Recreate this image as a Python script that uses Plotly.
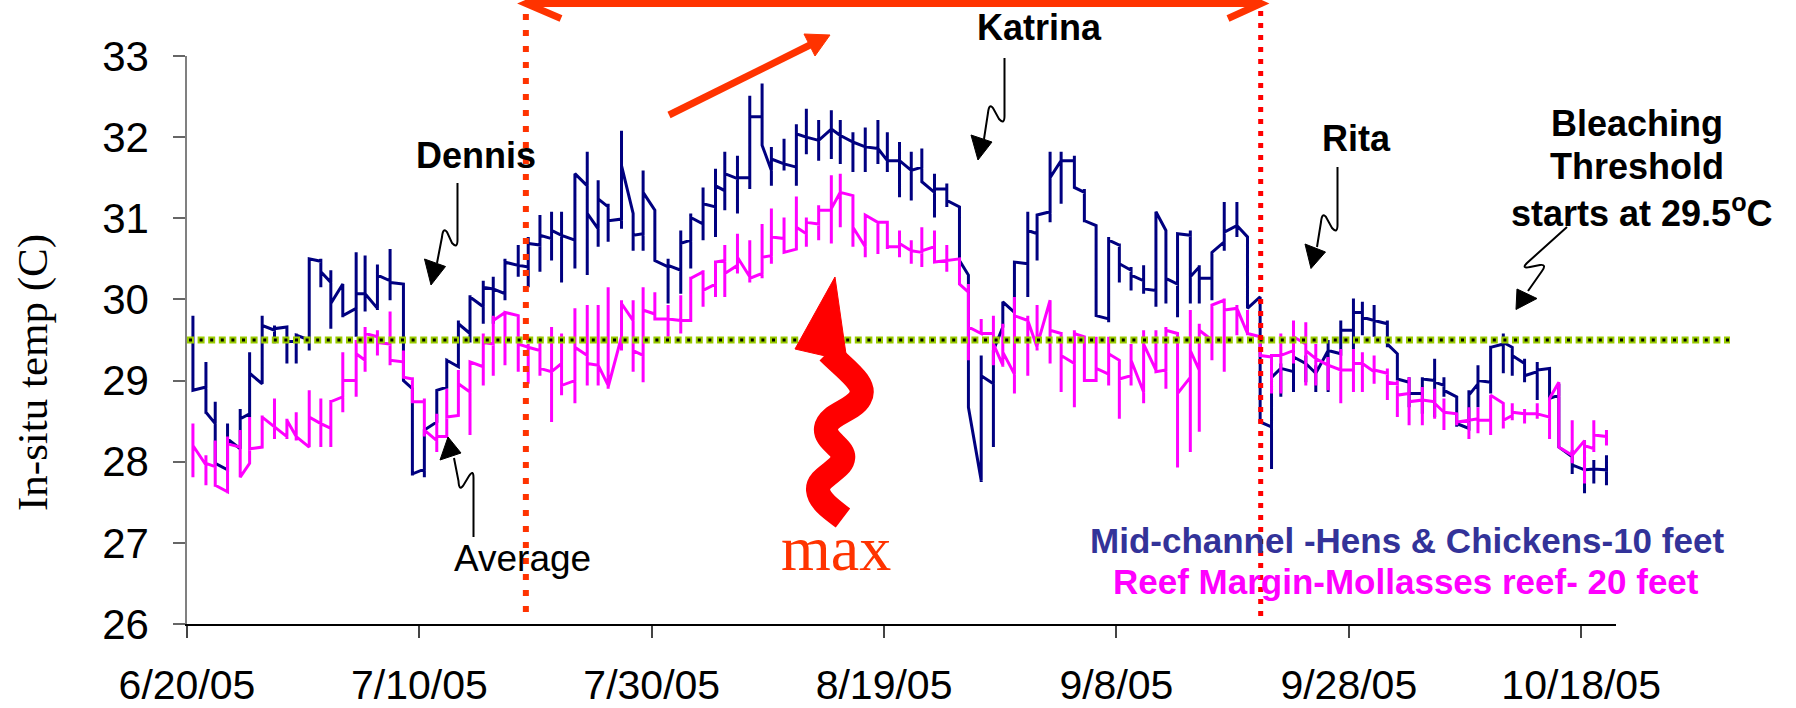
import pandas as pd
import plotly.graph_objects as go

# ---------------------------------------------------------------------------
# In-situ water temperature, summer 2005 (two loggers, several readings/day).
# Readings taken on the same date stack vertically on the date axis, so each
# sampling day is stored as: first reading, daily low, daily high, last reading.
# ---------------------------------------------------------------------------
START = pd.Timestamp("2005-06-20")
END = pd.Timestamp("2005-10-21")

sample_day = [
    0.51, 1.63, 2.43, 3.49, 4.58, 5.39, 6.47, 7.53, 8.60, 9.40,
    10.52, 11.52, 12.38, 13.41, 14.56, 15.33, 16.39, 17.48, 18.63, 19.40,
    20.43, 21.50, 22.36, 23.36, 24.36, 25.50, 26.36, 27.37, 28.51, 29.37,
    30.38, 31.38, 32.24, 33.39, 34.45, 35.39, 36.25, 37.40, 38.40, 39.26,
    40.27, 41.41, 42.50, 43.36, 44.42, 45.49, 46.29, 47.38, 48.44, 49.50,
    50.30, 51.39, 52.45, 53.31, 54.37, 55.46, 56.23, 57.32, 58.38, 59.47,
    60.28, 61.33, 62.34, 63.25, 64.34, 65.40, 66.49, 67.26, 68.36, 69.41,
    70.22, 71.22, 72.37, 73.17, 74.29, 75.24, 76.38, 77.24, 78.25, 79.33,
    80.25, 81.26, 82.34, 83.40, 84.26, 85.26, 86.36, 87.13, 88.22, 89.28,
    90.37, 91.28, 92.37, 93.35, 94.15, 95.24, 96.30, 97.16, 98.22, 99.31,
    100.40, 101.17, 102.18, 103.32, 104.18, 105.19, 106.33, 107.39, 108.19, 109.29,
    110.34, 111.12, 112.21, 113.30, 114.07, 115.13, 116.22, 117.28, 118.08, 119.23,
    120.29, 121.09, 122.18,
]

# Mid-channel - Hens & Chickens - 10 feet
mid_first = [
    29.80, 28.92, 28.47, 27.90, 28.16, 28.59, 28.96, 29.62, 29.66, 29.48,
    29.50, 30.47, 30.21, 30.19, 29.89, 30.07, 29.89, 30.23, 30.19, 28.90,
    27.91, 28.49, 28.92, 29.17, 29.58, 29.91, 30.13, 30.07, 30.42, 30.40,
    30.67, 30.75, 30.79, 30.73, 31.40, 30.87, 31.14, 30.99, 31.06, 30.81,
    31.10, 30.40, 30.36, 30.73, 30.93, 31.14, 31.34, 31.49, 31.50, 32.25,
    31.59, 31.67, 31.63, 32.00, 31.96, 32.10, 32.02, 31.94, 31.88, 31.86,
    31.71, 31.71, 31.59, 31.63, 31.32, 31.36, 31.14, 30.30, 27.77, 28.96,
    29.66, 29.84, 30.44, 30.81, 31.08, 31.71, 31.71, 31.32, 30.91, 29.76,
    30.67, 30.36, 30.23, 30.11, 30.85, 30.19, 30.79, 30.40, 30.26, 30.71,
    30.91, 30.77, 30.03, 28.43, 29.15, 29.11, 29.21, 29.09, 29.37, 29.33,
    29.62, 29.84, 29.74, 29.70, 29.33, 28.98, 28.84, 29.00, 28.94, 28.80,
    28.41, 28.96, 28.98, 29.45, 29.41, 29.21, 29.11, 29.15, 28.82, 28.06,
    27.90, 27.91, 27.90,
]
mid_low = [
    28.88, 28.59, 27.98, 27.90, 28.16, 28.55, 28.96, 29.46, 29.21, 29.21,
    29.37, 30.15, 29.64, 29.78, 29.54, 29.85, 29.87, 29.99, 29.00, 27.83,
    27.81, 28.49, 28.90, 29.17, 29.47, 29.70, 29.70, 29.99, 30.28, 30.15,
    30.34, 30.48, 30.21, 30.38, 30.30, 30.65, 30.71, 30.87, 30.60, 30.60,
    30.48, 29.95, 30.07, 30.38, 30.73, 30.77, 31.10, 31.06, 31.36, 31.90,
    31.40, 31.59, 31.40, 31.79, 31.71, 31.73, 31.67, 31.57, 31.57, 31.67,
    31.57, 31.26, 31.22, 31.45, 31.01, 31.14, 30.48, 28.67, 27.75, 28.18,
    29.66, 29.84, 30.03, 30.48, 30.95, 31.18, 31.38, 30.95, 29.80, 29.72,
    30.21, 30.11, 30.07, 29.91, 29.95, 29.78, 29.95, 29.95, 29.99, 30.60,
    30.77, 29.89, 28.49, 27.91, 28.80, 28.86, 28.98, 28.86, 28.86, 29.33,
    29.39, 29.56, 29.54, 29.41, 29.00, 28.67, 28.59, 28.55, 28.80, 28.43,
    28.41, 28.67, 28.84, 29.09, 29.06, 28.98, 28.76, 28.78, 28.18, 27.85,
    27.61, 27.73, 27.71,
]
mid_high = [
    29.80, 29.23, 28.74, 28.47, 28.65, 29.35, 29.80, 29.68, 29.66, 29.58,
    30.50, 30.50, 30.36, 30.19, 30.58, 30.54, 30.43, 30.62, 30.19, 28.90,
    28.39, 28.88, 29.27, 29.74, 30.05, 30.23, 30.28, 30.50, 30.67, 30.77,
    31.04, 31.08, 31.08, 31.55, 31.82, 31.47, 31.18, 32.08, 31.06, 31.59,
    31.10, 30.50, 30.85, 31.06, 31.38, 31.61, 31.82, 31.77, 32.51, 32.66,
    31.88, 31.98, 32.16, 32.35, 32.21, 32.33, 32.21, 32.06, 32.12, 32.21,
    32.06, 31.94, 31.82, 31.86, 31.55, 31.43, 31.14, 30.30, 29.31, 29.37,
    29.97, 30.46, 31.08, 31.04, 31.82, 31.82, 31.77, 31.36, 30.91, 30.77,
    30.69, 30.40, 30.42, 31.08, 30.85, 30.81, 30.85, 30.42, 30.58, 31.20,
    31.20, 30.77, 30.03, 29.04, 29.21, 29.45, 29.31, 29.19, 29.50, 29.74,
    30.01, 29.97, 29.93, 29.74, 29.33, 29.04, 29.04, 29.27, 29.04, 28.80,
    28.88, 29.19, 29.43, 29.58, 29.41, 29.27, 29.23, 29.15, 28.96, 28.14,
    28.26, 28.02, 28.08,
]
mid_last = [
    28.88, 28.61, 27.98, 28.28, 28.53, 29.09, 29.68, 29.64, 29.48, 29.56,
    30.50, 30.34, 29.95, 29.80, 30.07, 30.07, 30.30, 30.21, 29.00, 27.85,
    28.39, 28.88, 29.25, 29.70, 30.03, 30.15, 30.13, 30.46, 30.42, 30.69,
    30.79, 30.85, 30.79, 31.55, 31.06, 31.24, 30.97, 31.65, 30.79, 31.32,
    30.48, 30.42, 30.69, 31.01, 31.18, 31.40, 31.55, 31.50, 32.25, 31.90,
    31.73, 31.67, 32.04, 32.00, 31.96, 32.10, 32.02, 31.94, 31.88, 31.86,
    31.71, 31.71, 31.59, 31.45, 31.36, 31.22, 30.48, 28.67, 29.06, 29.37,
    29.97, 30.46, 30.85, 31.04, 31.50, 31.71, 31.38, 30.97, 29.80, 30.73,
    30.44, 30.30, 30.13, 31.08, 30.26, 30.81, 30.28, 30.26, 30.58, 30.83,
    30.91, 29.89, 28.49, 29.04, 29.15, 29.29, 29.21, 29.09, 29.37, 29.62,
    29.84, 29.78, 29.74, 29.45, 29.02, 28.84, 29.02, 28.98, 28.88, 28.47,
    28.82, 29.00, 29.41, 29.47, 29.31, 29.06, 29.13, 28.78, 28.18, 27.96,
    27.90, 27.91, 27.90,
]

# Reef Margin - Mollasses reef - 20 feet
reef_first = [
    28.47, 27.96, 27.94, 27.63, 28.18, 27.98, 28.18, 28.43, 28.31, 28.31,
    28.18, 28.47, 28.41, 28.80, 29.00, 29.25, 29.54, 29.45, 29.23, 29.02,
    28.74, 28.26, 28.31, 28.57, 28.86, 29.17, 29.45, 29.84, 29.80, 29.41,
    29.37, 29.11, 29.21, 29.00, 29.31, 29.19, 28.94, 29.54, 29.74, 29.31,
    29.82, 29.76, 29.74, 29.74, 30.34, 30.19, 30.48, 30.42, 30.28, 30.32,
    30.54, 30.75, 30.62, 30.81, 30.93, 31.10, 31.32, 31.28, 30.65, 30.95,
    30.95, 30.65, 30.60, 30.58, 30.65, 30.48, 30.50, 30.09, 29.58, 29.58,
    29.19, 29.08, 29.74, 29.41, 29.99, 29.58, 29.21, 29.54, 29.00, 29.08,
    29.25, 29.06, 28.86, 29.13, 29.13, 29.58, 29.04, 29.13, 29.50, 29.99,
    29.89, 29.58, 29.54, 29.29, 29.31, 29.37, 29.45, 29.27, 29.19, 29.13,
    29.13, 29.21, 29.11, 29.09, 28.96, 28.84, 28.76, 28.74, 28.61, 28.59,
    28.51, 28.53, 28.51, 28.72, 28.57, 28.59, 28.59, 28.55, 28.98, 28.08,
    28.26, 28.16, 28.31,
]
reef_low = [
    27.81, 27.71, 27.69, 27.61, 27.81, 27.98, 28.18, 28.28, 28.28, 28.26,
    28.18, 28.18, 28.18, 28.61, 28.80, 29.11, 29.31, 29.19, 29.04, 28.72,
    28.31, 28.12, 28.31, 28.55, 28.33, 28.94, 29.06, 29.19, 29.11, 28.96,
    29.06, 28.49, 28.82, 28.72, 28.94, 28.94, 28.90, 29.37, 29.11, 28.98,
    29.74, 29.54, 29.58, 29.74, 29.91, 30.03, 30.03, 30.32, 30.21, 30.26,
    30.44, 30.58, 30.62, 30.65, 30.73, 30.69, 30.89, 30.65, 30.52, 30.56,
    30.62, 30.52, 30.44, 30.40, 30.46, 30.34, 30.19, 29.25, 29.58, 29.19,
    29.17, 28.84, 29.06, 29.37, 29.21, 28.86, 28.67, 29.00, 29.00, 28.94,
    28.53, 28.94, 28.72, 29.11, 28.90, 27.93, 28.12, 28.37, 29.25, 29.11,
    29.56, 29.56, 29.29, 28.84, 28.84, 29.21, 28.94, 28.94, 28.88, 28.72,
    28.86, 28.86, 28.96, 28.76, 28.55, 28.45, 28.45, 28.53, 28.39, 28.45,
    28.28, 28.35, 28.33, 28.41, 28.51, 28.47, 28.53, 28.28, 28.18, 27.98,
    27.73, 28.12, 28.20,
]
reef_high = [
    28.47, 28.08, 28.26, 28.31, 28.39, 28.55, 28.57, 28.78, 28.53, 28.61,
    28.88, 28.78, 28.76, 29.35, 29.50, 29.66, 29.62, 29.85, 29.37, 29.04,
    28.78, 28.59, 28.90, 29.13, 29.23, 29.58, 29.80, 29.84, 29.80, 29.45,
    29.54, 29.66, 29.58, 29.89, 29.93, 29.93, 30.15, 29.99, 29.99, 30.15,
    30.09, 29.93, 30.05, 30.28, 30.36, 30.48, 30.67, 30.81, 30.73, 30.93,
    31.12, 31.01, 31.27, 31.01, 31.16, 31.53, 31.55, 31.28, 31.04, 30.95,
    30.95, 30.85, 30.73, 30.89, 30.85, 30.67, 30.50, 30.19, 29.76, 29.80,
    29.70, 30.03, 29.80, 29.93, 29.99, 29.60, 29.62, 29.54, 29.54, 29.54,
    29.25, 29.45, 29.62, 29.62, 29.66, 29.58, 29.87, 29.70, 29.93, 30.01,
    29.93, 29.87, 29.54, 29.29, 29.58, 29.74, 29.72, 29.45, 29.29, 29.39,
    29.39, 29.35, 29.31, 29.15, 29.00, 29.04, 28.92, 28.90, 28.78, 28.59,
    28.67, 28.67, 28.82, 28.72, 28.72, 28.65, 28.72, 28.76, 28.98, 28.51,
    28.26, 28.51, 28.39,
]
reef_last = [
    28.20, 27.98, 27.71, 28.22, 27.81, 28.16, 28.55, 28.43, 28.51, 28.31,
    28.55, 28.47, 28.74, 29.00, 29.33, 29.58, 29.47, 29.25, 29.04, 28.74,
    28.39, 28.31, 28.55, 28.96, 29.23, 29.47, 29.74, 29.84, 29.45, 29.41,
    29.15, 29.11, 28.94, 29.41, 29.21, 29.19, 28.92, 29.95, 29.37, 29.87,
    29.76, 29.76, 29.74, 30.26, 30.11, 30.46, 30.32, 30.52, 30.26, 30.52,
    30.77, 30.58, 30.89, 30.95, 31.10, 31.12, 31.32, 30.89, 31.04, 30.95,
    30.65, 30.69, 30.60, 30.60, 30.46, 30.48, 30.19, 29.66, 29.58, 29.45,
    29.35, 29.80, 29.74, 29.43, 29.62, 29.31, 29.58, 29.00, 29.15, 29.33,
    29.02, 29.25, 29.45, 29.11, 29.62, 28.84, 29.37, 29.62, 29.93, 29.87,
    29.89, 29.58, 29.31, 29.31, 29.31, 29.54, 29.37, 29.27, 29.19, 29.13,
    29.21, 29.21, 29.13, 28.98, 28.82, 28.74, 28.76, 28.72, 28.61, 28.49,
    28.51, 28.51, 28.82, 28.51, 28.61, 28.59, 28.59, 28.78, 28.18, 28.08,
    28.20, 28.33, 28.31,
]

BLEACHING_THRESHOLD = 29.5          # deg C
impact_window = ["2005-07-19 04:00", "2005-09-20 10:00"]

y_ticks = [26, 27, 28, 29, 30, 31, 32, 33]
x_tick_dates = ["2005-06-20", "2005-07-10", "2005-07-30", "2005-08-19",
                "2005-09-08", "2005-09-28", "2005-10-18"]
x_tick_labels = ["6/20/05", "7/10/05", "7/30/05", "8/19/05",
                 "9/8/05", "9/28/05", "10/18/05"]

SANS = "Liberation Sans, Arial, sans-serif"
SERIF = "Liberation Serif, Times New Roman, serif"

# ---------------------------------------------------------------------------
# Page geometry (pixels) and helpers for placing the hand-drawn callouts
# ---------------------------------------------------------------------------
FIG_W, FIG_H = 1796, 708
M_L, M_R, M_T, M_B = 187, 180, 56, 84
PW = FIG_W - M_L - M_R
PH = FIG_H - M_T - M_B


def px(x):
    return (x - M_L) / PW


def py(y):
    return (FIG_H - M_B - y) / PH


def paper_path(*cmds):
    parts = []
    for letter, *pts in cmds:
        coords = " ".join(f"{px(x):.5f},{py(y):.5f}" for x, y in pts)
        parts.append(f"{letter}{coords}")
    return " ".join(parts)


def daily_path(days, first, low, high, last):
    xs, ys = [], []
    for d, a, lo, hi, b in zip(days, first, low, high, last):
        t = START + pd.Timedelta(days=d)
        xs += [t, t, t, t]
        ys += [a, hi, lo, b]
    return xs, ys


fig = go.Figure()

mx, my = daily_path(sample_day, mid_first, mid_low, mid_high, mid_last)
rx, ry = daily_path(sample_day, reef_first, reef_low, reef_high, reef_last)

fig.add_trace(go.Scatter(x=mx, y=my, mode="lines", name="Mid-channel",
                         line=dict(color="#000080", width=3),
                         showlegend=False, hoverinfo="skip"))
fig.add_trace(go.Scatter(x=rx, y=ry, mode="lines", name="Reef Margin",
                         line=dict(color="#FF00FF", width=3),
                         showlegend=False, hoverinfo="skip"))

shapes = []

# bleaching threshold: green band with black dots, running past the axis end
shapes.append(dict(type="line", xref="paper", yref="y", x0=px(187), x1=px(1730),
                   y0=BLEACHING_THRESHOLD, y1=BLEACHING_THRESHOLD,
                   line=dict(color="#99CC00", width=7, dash="7px,3.6px")))
shapes.append(dict(type="line", xref="paper", yref="y", x0=px(189), x1=px(1730),
                   y0=BLEACHING_THRESHOLD, y1=BLEACHING_THRESHOLD,
                   line=dict(color="#000000", width=3, dash="3px,7.6px")))

# dotted markers bounding the hurricane window
shapes.append(dict(type="line", xref="x", yref="paper",
                   x0=impact_window[0], x1=impact_window[0], y0=py(612), y1=py(1),
                   line=dict(color="#FF3300", width=6, dash="6px,10px")))
shapes.append(dict(type="line", xref="x", yref="paper",
                   x0=impact_window[1], x1=impact_window[1], y0=py(616), y1=py(1),
                   line=dict(color="#FF0000", width=5, dash="5px,7px")))

# double-headed arrow across the window
shapes.append(dict(type="path", xref="paper", yref="paper",
                   path=paper_path(("M", (526, 3.5)), ("L", (1261, 3.5)),
                                   ("M", (561, 18.5)), ("L", (526, 3.5)), ("L", (561, -11.5)),
                                   ("M", (1228, 18.5)), ("L", (1261, 3.5)), ("L", (1228, -11.5))),
                   line=dict(color="#FF3300", width=7)))

# rising-trend arrow
shapes.append(dict(type="path", xref="paper", yref="paper",
                   path=paper_path(("M", (669, 115)), ("L", (812, 44))),
                   line=dict(color="#FF3300", width=7)))
shapes.append(dict(type="path", xref="paper", yref="paper",
                   path=paper_path(("M", (830, 35)), ("L", (804, 34)), ("L", (815, 56)), ("Z",)),
                   line=dict(color="#FF3300", width=1), fillcolor="#FF3300"))

# wavy "max" arrow
shapes.append(dict(type="path", xref="paper", yref="paper",
                   path=paper_path(("M", (828, 352)),
                                   ("C", (846, 370), (868, 384), (860, 398)),
                                   ("C", (853, 411), (828, 414), (826, 428)),
                                   ("C", (824, 441), (846, 448), (843, 459)),
                                   ("C", (840, 471), (817, 477), (818, 490)),
                                   ("C", (819, 501), (831, 509), (843, 518))),
                   line=dict(color="#FF0000", width=24)))
shapes.append(dict(type="path", xref="paper", yref="paper",
                   path=paper_path(("M", (835, 277)), ("L", (795, 349)), ("L", (847, 361)), ("Z",)),
                   line=dict(color="#FF0000", width=1), fillcolor="#FF0000"))

# black callout arrows (line + head)
callouts = [
    # Dennis
    ([("M", (457.5, 183)), ("L", (457.5, 240)), ("Q", (457.5, 249), (452, 243)),
      ("L", (447, 232)), ("Q", (443, 227), (442, 237)), ("L", (437, 263))],
     [(431, 285), (424.5, 259), (445.5, 266.5)]),
    # Katrina
    ([("M", (1004.5, 58)), ("L", (1004.5, 116)), ("Q", (1004.5, 125), (999, 119)),
      ("L", (993, 108)), ("Q", (989, 103), (988, 113)), ("L", (984, 139))],
     [(978, 160), (971, 135), (992, 142)]),
    # Rita
    ([("M", (1337.5, 167)), ("L", (1337.5, 225)), ("Q", (1337.5, 234), (1332, 228)),
      ("L", (1326, 217)), ("Q", (1322, 212), (1321, 222)), ("L", (1317, 247))],
     [(1311, 268.5), (1305, 244), (1325.5, 252)]),
    # bleaching threshold
    ([("M", (1567, 227)), ("L", (1527, 263)), ("Q", (1521, 269), (1530, 267)),
      ("L", (1540, 265)), ("Q", (1547, 264), (1542, 271)), ("L", (1528, 291))],
     [(1516, 309.5), (1517, 289), (1537, 298.5)]),
    # average
    ([("M", (473.5, 537)), ("L", (473.5, 478)), ("Q", (473.5, 469), (469, 476)),
      ("L", (463, 486)), ("Q", (459, 491), (458.5, 481)), ("L", (454, 458))],
     [(448, 437), (440, 460), (461, 453)]),
]
for line_cmds, head in callouts:
    shapes.append(dict(type="path", xref="paper", yref="paper",
                       path=paper_path(*line_cmds),
                       line=dict(color="#000000", width=2)))
    shapes.append(dict(type="path", xref="paper", yref="paper",
                       path=paper_path(("M", head[0]), ("L", head[1]), ("L", head[2]), ("Z",)),
                       line=dict(color="#000000", width=1), fillcolor="#000000"))

annotations = []


def label(text, x, y, size, color="#000000", family=SANS, angle=0):
    annotations.append(dict(text=text, x=px(x), y=py(y), xref="paper", yref="paper",
                            xanchor="center", yanchor="middle", showarrow=False,
                            textangle=angle,
                            font=dict(family=family, size=size, color=color)))


label("<b>Dennis</b>", 476, 155, 36)
label("<b>Katrina</b>", 1039, 27, 36)
label("<b>Rita</b>", 1356, 138, 36)
label("<b>Bleaching</b>", 1637, 123, 36)
label("<b>Threshold</b>", 1637, 166.5, 36)
label(f"<b>starts at {BLEACHING_THRESHOLD}<sup>o</sup>C</b>", 1642, 211, 36)
label("Average", 522, 558, 37)
label("max", 836, 548, 64, color="#FF3300", family=SERIF)
label("<b>Mid-channel -Hens &amp; Chickens-10 feet</b>", 1406.5, 540.5, 35, color="#333399")
label("<b>Reef Margin-Mollasses reef- 20 feet</b>", 1406, 581.5, 35, color="#FF00FF")
label("In-situ temp (C)", 33, 373, 43, family=SERIF, angle=-90)

fig.update_layout(
    width=FIG_W, height=FIG_H,
    margin=dict(l=M_L, r=M_R, t=M_T, b=M_B, autoexpand=False),
    paper_bgcolor="white", plot_bgcolor="white",
    showlegend=False,
    shapes=shapes,
    annotations=annotations,
    xaxis=dict(type="date", range=[START, END],
               tickvals=x_tick_dates, ticktext=x_tick_labels,
               showgrid=False, zeroline=False,
               showline=True, linecolor="#000000", linewidth=1.5,
               ticks="outside", ticklen=12, tickwidth=1.5, tickcolor="#444444",
               ticklabelstandoff=12,
               tickfont=dict(family=SANS, size=41, color="#000000")),
    yaxis=dict(range=[26, 33], tickvals=y_ticks,
               showgrid=False, zeroline=False,
               showline=True, linecolor="#808080", linewidth=1.5,
               ticks="outside", ticklen=12, tickwidth=1.5, tickcolor="#666666",
               ticklabelstandoff=16,
               tickfont=dict(family=SANS, size=42, color="#000000")),
)

fig.write_html("out.html")
